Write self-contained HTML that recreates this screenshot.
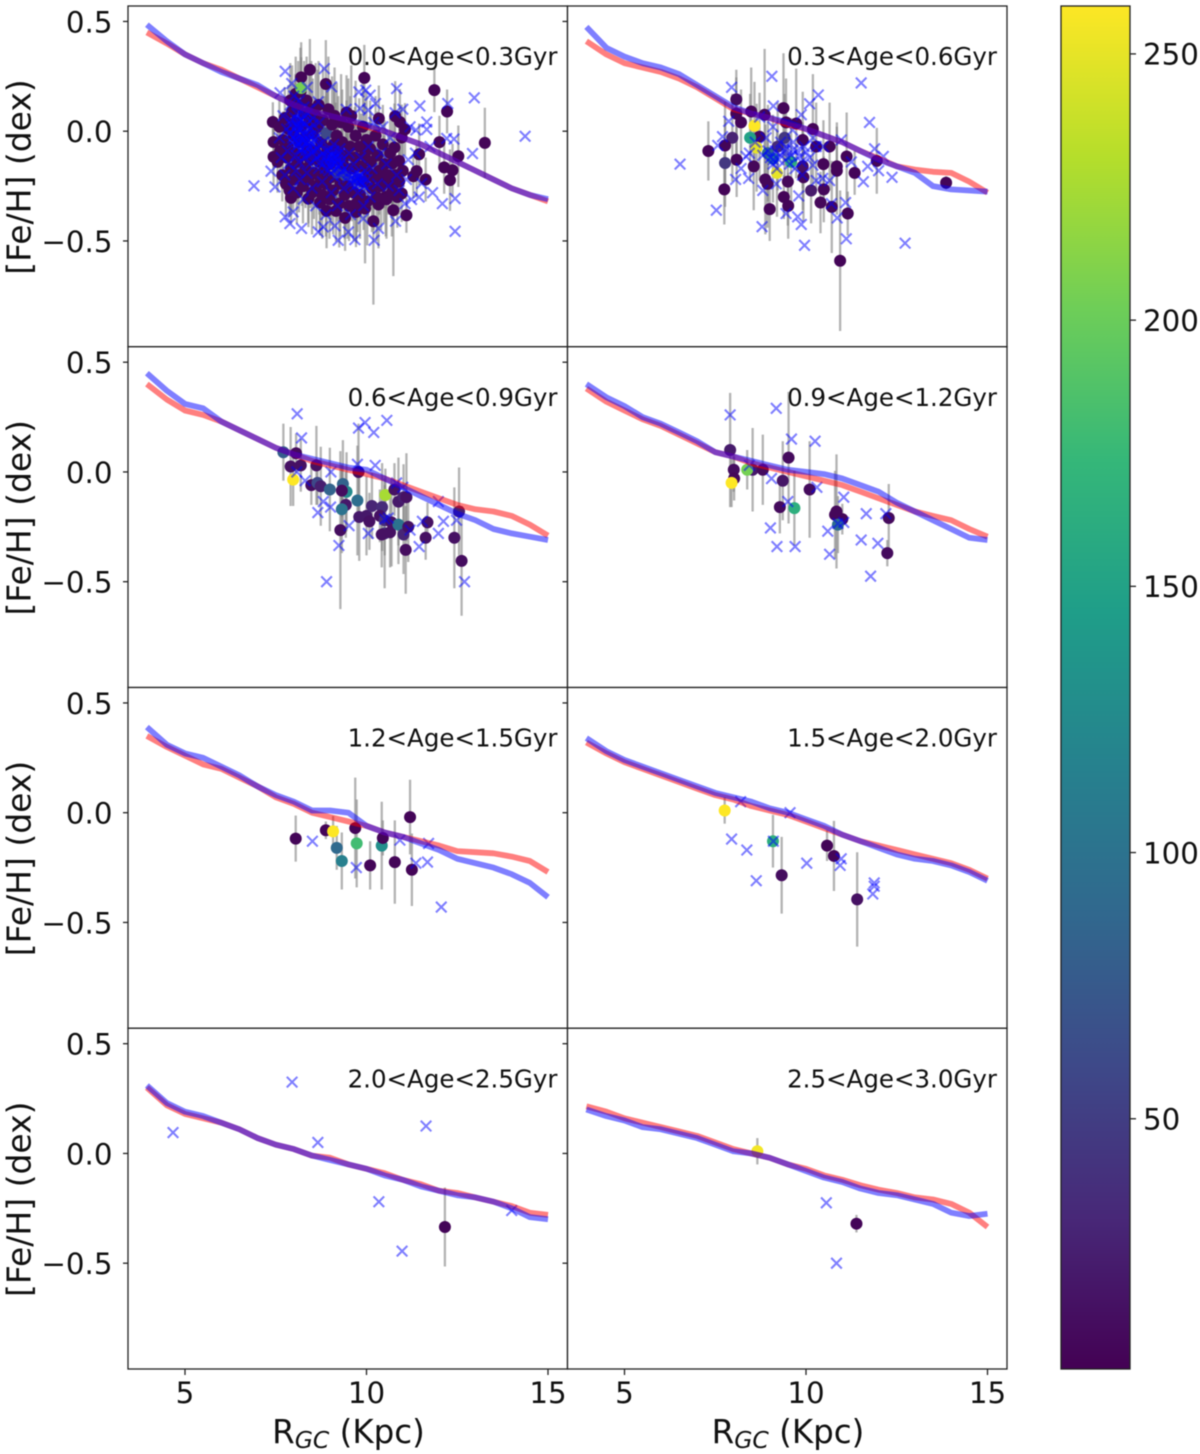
<!DOCTYPE html>
<html lang="en">
<head>
<meta charset="utf-8">
<title>[Fe/H] gradients by age bin</title>
<style>
html,body{margin:0;padding:0;background:#fff;}
svg{display:block;filter:blur(0.5px);}
text{font-family:"DejaVu Sans","Liberation Sans",sans-serif;fill:#111;}
</style>
</head>
<body>
<svg id="chart" xmlns="http://www.w3.org/2000/svg" width="1200" height="1454" viewBox="0 0 1200 1454"></svg>
<script>
const ageLabels = ["0.0<Age<0.3Gyr","0.3<Age<0.6Gyr","0.6<Age<0.9Gyr","0.9<Age<1.2Gyr","1.2<Age<1.5Gyr","1.5<Age<2.0Gyr","2.0<Age<2.5Gyr","2.5<Age<3.0Gyr"];
const xTicks = [5,10,15];
const yTicks = [0.5,0,-0.5];
const yTickLabels = ["0.5","0.0","\u22120.5"];
const cbarTicks = [50,100,150,200,250];
const rGrid = [3.95,4.5,5,5.5,6,6.5,7,7.5,8,8.5,9,9.5,10,10.5,11,11.5,12,12.5,13,13.5,14,14.5,15];

const blue0 = [.485,.41,.35,.31,.27,.24,.21,.16,.12,.09,.07,.05,.03,0,-.03,-.06,-.1,-.14,-.18,-.22,-.26,-.29,-.31];
const red0  = [.45,.4,.35,.31,.28,.24,.2,.16,.12,.09,.07,.05,.02,0,-.03,-.06,-.1,-.14,-.18,-.22,-.26,-.29,-.32];
const blue1 = [.475,.38,.34,.31,.29,.26,.21,.16,.11,.08,.06,.04,.01,-.02,-.05,-.09,-.13,-.16,-.19,-.25,-.265,-.27,-.275];
const red1  = [.41,.35,.31,.29,.27,.24,.2,.15,.1,.08,.06,.03,.01,-.02,-.05,-.09,-.125,-.16,-.175,-.185,-.19,-.23,-.28];
const blue2 = [.45,.37,.31,.29,.23,.19,.15,.11,.08,.06,.04,.02,.01,-.03,-.07,-.11,-.15,-.19,-.22,-.26,-.28,-.295,-.31];
const red2  = [.4,.33,.28,.26,.23,.19,.15,.11,.08,.05,.03,.01,-.01,-.03,-.06,-.09,-.12,-.15,-.17,-.18,-.2,-.24,-.29];
const blue3 = [.4,.34,.3,.25,.22,.18,.14,.09,.07,.05,.03,.01,0,-.01,-.03,-.06,-.09,-.14,-.18,-.22,-.26,-.3,-.31];
const red3  = [.38,.32,.28,.24,.21,.17,.13,.09,.07,.04,.02,0,-.02,-.04,-.06,-.09,-.12,-.15,-.18,-.2,-.22,-.26,-.295];
const blue4 = [.39,.31,.27,.25,.21,.17,.12,.08,.05,.01,.01,0,-.06,-.09,-.11,-.14,-.17,-.21,-.23,-.25,-.28,-.32,-.385];
const red4  = [.35,.3,.26,.22,.2,.16,.12,.07,.04,0,-.02,-.04,-.06,-.09,-.11,-.13,-.15,-.175,-.18,-.185,-.2,-.22,-.27];
const blue5 = [.34,.28,.24,.21,.18,.15,.12,.09,.07,.05,.02,0,-.03,-.06,-.1,-.13,-.16,-.19,-.21,-.22,-.24,-.27,-.31];
const red5  = [.32,.27,.23,.2,.17,.14,.11,.08,.06,.03,.01,-.01,-.04,-.07,-.1,-.13,-.15,-.17,-.19,-.21,-.23,-.26,-.3];
const blue6 = [.31,.23,.19,.17,.14,.11,.07,.04,.02,-.01,-.03,-.05,-.07,-.1,-.12,-.15,-.17,-.19,-.2,-.22,-.25,-.29,-.3];
const red6  = [.3,.22,.18,.16,.14,.11,.07,.04,.02,-.01,-.02,-.05,-.07,-.09,-.12,-.14,-.17,-.18,-.2,-.22,-.24,-.27,-.28];
const blue7 = [.2,.17,.15,.12,.11,.09,.07,.04,.01,0,-.02,-.05,-.08,-.11,-.13,-.16,-.18,-.19,-.21,-.23,-.27,-.285,-.275];
const red7  = [.215,.19,.16,.14,.12,.1,.08,.05,.02,0,-.02,-.05,-.07,-.1,-.12,-.145,-.165,-.18,-.2,-.21,-.23,-.27,-.335];

/* stars: [R_GC, [Fe/H], [Fe/H] error, colour value] */
const stars0 = [
[8.44,.28,.14,6],[8.2,.245,.16,6],[8.88,.215,.2,6],[9.94,.243,.15,6],[11.87,.187,.1,6],[12.22,.09,.1,6],[10.34,.058,.15,6],[9.45,.085,.17,6],[7.42,.042,.09,6],[7.44,-.049,.12,6],[7.44,-.117,.13,6],[7.92,-.304,.12,6],[13.26,-.053,.16,6],[12.53,-.114,.14,6],[12.01,-.05,.12,6],[12.14,-.165,.12,6],[12.37,-.178,.12,6],[12.3,-.223,.14,6],[11.45,-.105,.14,6],[11.63,-.22,.1,6],[11.29,-.205,.1,6],[11.38,-.182,.12,6],[11.1,-.383,.08,6],[10.74,-.36,.3,6],[10.19,-.41,.38,6],[9.41,-.395,.15,6],[10.97,-.284,.13,6],[11.06,.008,.12,6],[10.92,.042,.15,6],[10.79,.068,.16,6],[10.97,-.029,.15,6],[10.77,-.074,.2,6],[10.71,-.147,.2,6],[10.9,-.135,.16,6],[10.33,-.334,.2,6],[9.96,-.352,.25,6],[9.71,-.368,.16,6],[9.16,-.363,.14,6],[8.9,-.363,.17,6],[8.72,-.325,.15,6],[8.4,-.307,.13,6],[10.53,-.299,.18,6],[10.72,-.249,.15,6],
[7.6,.02,.12,7],[7.62,-.09,.15,7],[7.55,-.14,.14,7],[7.7,-.04,.13,7],[7.68,-.2,.12,7],[7.75,.06,.14,7],[7.8,-.12,.18,7],[7.78,-.24,.15,7],[7.85,.01,.2,7],[7.83,-.07,.16,7],[7.9,.14,.17,7],[7.92,-.17,.2,7],[7.88,-.27,.12,7],[7.95,.09,.21,7],[8,-.02,.24,7],[7.98,-.22,.15,7],[8.02,-.1,.2,7],[8.05,.17,.17,7],[8.04,.04,.22,7],[8.1,-.14,.19,7],[8.08,-.28,.14,7],[8.12,.12,.2,7],[8.15,-.05,.2,7],[8.14,-.2,.17,7],[8.2,.02,.22,7],[8.18,.18,.2,7],[8.22,-.11,.23,7],[8.25,-.25,.17,7],[8.28,.08,.24,7],[8.3,-.03,.25,7],[8.32,-.17,.18,7],[8.35,.14,.2,7],[8.38,-.08,.22,7],[8.4,-.22,.2,7],[8.42,.04,.23,7],[8.45,-.13,.22,7],[8.5,-.28,.19,7],[8.48,.1,.22,7],[8.52,-.01,.25,7],[8.55,-.19,.21,7],[8.6,.07,.24,7],[8.58,-.09,.24,7],[8.62,-.25,.2,7],[8.65,.02,.26,7],[8.7,-.14,.24,7],[8.68,.12,.2,7],[8.72,-.21,.24,7],[8.75,-.05,.25,7],[8.8,.05,.24,8],[8.78,-.29,.2,7],[8.85,-.11,.27,7],[8.83,-.18,.2,7],[8.9,-.01,.25,60],[8.88,-.24,.24,7],[8.95,.1,.24,7],[8.92,-.08,.26,7],[9,-.15,.24,7],[8.98,-.31,.18,7],[9.05,.03,.22,7],[9.02,-.21,.22,7],[9.1,-.06,.27,7],[9.08,-.27,.2,7],[9.15,-.13,.26,7],[9.12,.07,.22,7],[9.2,-.19,.22,50],[9.18,-.02,.24,7],[9.25,-.33,.2,7],[9.22,-.09,.25,7],[9.3,.04,.22,7],[9.28,-.24,.24,7],[9.35,-.15,.24,7],[9.33,-.05,.24,7],[9.4,-.29,.2,7],[9.45,-.11,.25,7],[9.42,-.2,.24,60],[9.5,.02,.22,7],[9.48,-.25,.24,7],[9.55,-.07,.23,7],[9.52,-.34,.16,7],[9.6,-.17,.24,7],[9.58,.07,.23,7],[9.65,-.28,.22,7],[9.7,-.02,.25,7],[9.68,-.12,.23,7],[9.75,-.22,.24,40],[9.72,-.33,.18,7],[9.8,-.07,.22,7],[9.85,-.16,.24,7],[9.82,-.29,.2,7],[9.9,.02,.2,7],[9.95,-.11,.24,7],[9.92,-.23,.22,7],[10,-.04,.22,7],[10.05,-.19,.23,7],[10.02,-.32,.2,7],[10.1,-.08,.22,7],[10.15,-.26,.2,7],[10.12,-.14,.22,7],[10.2,-.21,.24,7],[10.25,-.02,.18,7],[10.3,-.11,.2,7],[10.28,-.3,.2,7],[10.35,-.18,.2,7],[10.4,-.25,.2,7],[10.45,-.06,.18,7],[10.5,-.15,.2,7],[10.48,-.22,.2,7],[10.55,-.31,.18,7],[10.6,-.2,.18,7],[10.65,-.1,.16,7],[10.7,-.28,.2,7],[10.8,-.2,.15,7],[10.85,-.3,.14,7],[10.9,-.23,.15,7],[11,-.18,.14,7],
[8.2,.197,.14,205]
];
const crosses0 = [
[7.76,.273],[8.84,.285],[12.97,.152],[14.37,-.023],[6.9,-.249],[7.37,-.182],[7.48,-.254],[10.83,.194],[9.79,.179],[9.98,.187],[11.47,.115],[12.24,.126],[12.92,-.102],[12.44,-.456],[12.44,-.307],[12.09,-.33],[11.82,-.28],[11.66,.042],[11.66,.008],[11.36,.005],[12.21,-.033],[12.41,-.036],[11.75,-.07],[11,.1],[10.79,.084],[10.25,.126],[10.1,.164],[10.05,.096],[9.82,.103],[9.04,.202],[7.94,.217],[7.62,.175],[8.37,.2],[8.67,.134],[10.21,-.497],[9.68,-.494],[9.22,-.497],[8.67,-.459],[8.81,-.436],[9.5,-.459],[9.13,-.431],[8.21,-.443],[7.89,-.421],[7.76,-.39],[7.98,-.368],[10.33,-.443],[10.8,-.41],[9.91,-.398],[11.24,-.311],[11.52,-.238],[11.06,-.33],[10.83,-.2],
[7.6,-.03],[7.65,-.12],[7.7,.07],[7.75,-.2],[7.8,.01],[7.82,-.09],[7.85,-.15],[7.9,.12],[7.92,.05],[7.95,-.05],[7.98,-.26],[8,.16],[8.02,-.02],[8.05,-.11],[8.06,-.18],[8.08,.08],[8.1,.02],[8.12,-.06],[8.14,-.14],[8.15,.14],[8.17,-.22],[8.2,.05],[8.22,-.01],[8.24,-.08],[8.26,-.31],[8.28,.11],[8.3,-.04],[8.32,-.12],[8.34,.03],[8.36,-.19],[8.38,.08],[8.4,-.02],[8.42,-.07],[8.44,-.15],[8.46,.01],[8.48,-.1],[8.5,-.26],[8.52,.06],[8.55,-.04],[8.58,-.13],[8.6,-.34],[8.62,-.01],[8.65,-.08],[8.68,-.17],[8.7,.04],[8.74,-.11],[8.78,-.23],[8.82,-.05],[8.85,-.14],[8.88,-.38],[8.92,-.09],[8.96,-.18],[9,-.12],[9.03,-.28],[9.06,-.15],[9.1,-.06],[9.13,-.21],[9.16,-.11],[9.2,-.34],[9.23,-.16],[9.27,-.08],[9.3,-.2],[9.33,-.13],[9.37,-.26],[9.4,-.17],[9.44,.1],[9.48,-.21],[9.52,-.1],[9.56,-.38],[9.6,-.22],[9.64,-.15],[9.68,-.25],[9.72,-.19],[9.76,-.28],[9.8,-.21],[9.84,-.12],[9.88,-.24],[9.92,-.34],[9.96,-.18],[10,-.26],[10.05,-.07],[10.1,-.3],[10.15,-.17],[10.2,.04],[10.3,-.24],[10.4,-.1],[10.45,.02],[10.55,-.15],[10.6,-.25],[10.65,-.03],[10.9,-.27],[11.1,-.22],[11.15,-.13],[11.2,.02],[11.35,-.1],[11.45,-.3],
[7.88,-.01],[7.93,.03],[7.97,-.03],[8,.01],[8.03,.06],[8.04,-.04],[8.07,-.07],[8.09,.03],[8.1,-.01],[8.11,-.05],[8.13,.05],[8.15,.01],[8.16,-.03],[8.18,-.08],[8.19,.08],[8.21,.02],[8.23,-.04],[8.25,-.1],[8.27,.04],[8.29,-.02],[8.31,-.07],[8.33,.07],[8.35,-.05],[8.37,-.11],[8.39,.01],[8.41,-.04],[8.43,.1],[8.45,-.08],[8.47,-.02],[8.51,-.06],[8.53,.03],[8.56,-.09],[8.6,-.03],[8.64,-.12],[8.69,-.06],[8.73,-.14],
[8.8,-.1],[8.86,-.17],[8.9,-.12],[8.94,-.14],[8.97,-.09],[9.01,-.16],[9.04,-.11],[9.07,-.13],[9.09,-.18],[9.11,-.09],[9.14,-.15],[9.17,-.12],[9.19,-.17],[9.22,-.13],[9.25,-.1],[9.29,-.15],[9.35,-.18],[9.5,-.19],[9.58,-.24],[9.65,-.2],[9.7,-.23],[9.74,-.21],[9.78,-.24],[9.82,-.2],[9.86,-.23],[9.9,-.21],[9.94,-.25],[10.02,-.22]
];
const stars1 = [
[7.31,-.09,.135,6],[8.08,.145,.1,12],[8.08,.08,.2,6],[8.49,.09,.2,6],[8.86,.075,.3,6],[9.38,.105,.25,6],[8.21,.04,.15,6],[9.45,.04,.2,6],[9.73,.035,.25,6],[10.19,.01,.25,6],[8.72,-.025,.2,8],[7.97,-.03,.2,28],[7.77,-.065,.2,6],[8.09,-.13,.17,6],[7.77,-.145,.2,45],[7.75,-.265,.16,6],[8.56,-.16,.2,8],[8.95,-.1,.22,90],[9.41,-.03,.2,45],[9.22,-.07,.2,35],[9.91,-.04,.22,6],[10.28,-.07,.2,6],[10.65,-.07,.2,6],[11.12,-.115,.2,6],[11.95,-.135,.15,6],[10.48,-.15,.2,6],[10.85,-.16,.2,6],[10.85,-.18,.2,6],[11.34,-.19,.1,6],[9.91,-.16,.2,15],[9.93,-.21,.2,8],[9.5,-.23,.2,8],[8.88,-.22,.25,8],[8.94,-.24,.2,8],[9.39,-.3,.1,6],[9.51,-.34,.15,6],[9,-.355,.145,6],[10.14,-.27,.15,22],[10.49,-.265,.15,8],[10.4,-.325,.14,8],[10.71,-.345,.21,8],[11.15,-.375,.1,6],[10.94,-.59,.32,6],[13.86,-.235,.03,6],[8.58,.025,.2,259],[8.46,-.03,.2,150],[8.64,-.075,.2,250],[9.09,-.125,.2,112],[9.59,-.14,.2,165],[9.2,-.19,.2,250]
];
const crosses1 = [
[9.06,.25],[11.52,.22],[7.95,.2],[11.75,.04],[10.34,.165],[10.1,.125],[9.1,.115],[9.87,.075],[7.87,.045],[6.53,-.15],[7.53,-.36],[8.79,-.435],[9.96,-.52],[12.73,-.51],[11.11,-.49],[10.86,-.395],[9.87,-.425],[9.77,-.39],[9.45,-.375],[11.09,-.325],[10.7,-.33],[9.8,-.295],[11.58,-.23],[12.37,-.21],[12,-.18],[11.7,-.16],[11.89,-.08],[12.13,-.115],[11.25,-.14],[10.97,-.04],[8.06,-.22],[8.42,-.215],[8.21,-.17],[7.7,-.025],[7.57,-.065],[8.81,-.27],[9.18,-.24],[10,-.095],[9.64,-.085],[10.19,-.155],[10.46,-.215],[10.65,-.225],[10.28,-.225],[8.44,-.1],[8.35,-.115],[8.81,-.11],[9.09,-.15],[9.45,-.07],[9.82,-.115],[10.28,-.07],[9.09,.02],[8.72,.065],[9.63,.005],[10.19,-.03],[10.48,-.07],[9.1,-.13],[9.3,-.11],[9.55,-.15],[9.7,-.17],[10.1,-.12],[8.6,-.05],[8.9,-.03],[9.3,-.05],[9.65,-.05],[9.2,-.17],[9.9,-.2],
[8.95,-.09],[9.02,-.12],[9.15,-.09],[9.25,-.13],[9.4,-.09],[9.5,-.12],[9.6,-.11],[9.75,-.09],[9.88,-.14],[9.95,-.07]
];
const stars2 = [
[7.71,.09,.13,80],[8.06,.085,.09,10],[7.91,.025,.18,15],[8.19,.03,.12,15],[7.98,-.035,.12,259],[8.48,-.06,.09,12],[8.65,-.05,.1,60],[8.74,-.065,.18,25],[8.62,.03,.18,15],[8.99,-.08,.19,85],[9.35,-.055,.2,85],[9.45,-.09,.18,125],[9.32,-.085,.12,12],[9.43,-.15,.15,20],[9.32,-.17,.2,100],[9.75,-.13,.25,95],[9.78,0,.22,10],[9.28,-.265,.36,12],[9.8,-.205,.2,20],[10,-.2,.18,20],[10.08,-.225,.13,15],[10.15,-.155,.15,30],[10.43,-.16,.2,35],[10.37,-.2,.12,15],[10.5,-.22,.16,35],[10.5,-.28,.25,40],[10.69,-.23,.2,15],[10.42,-.285,.15,15],[10.65,-.275,.16,15],[10.88,-.24,.18,100],[11.02,-.285,.18,30],[11.15,-.25,.16,15],[10.52,-.105,.12,225],[10.77,-.08,.12,15],[10.88,-.135,.2,20],[11.02,-.115,.15,25],[11.1,-.115,.2,15],[11.08,-.355,.2,12],[11.68,-.23,.09,15],[11.63,-.3,.1,15],[12.42,-.3,.23,15],[12.55,-.18,.2,25],[12.62,-.405,.25,12]
];
const crosses2 = [
[8.09,.265],[8.21,.155],[9.78,.2],[9.96,.225],[10.2,.18],[10.56,.235],[9.75,.035],[10.24,.03],[9.02,0],[8.31,-.04],[8.08,0],[10.83,-.05],[11,-.07],[11.98,-.135],[8.81,-.135],[9.01,-.16],[8.66,-.185],[9.52,-.245],[10.05,-.28],[10.5,-.215],[10.6,-.21],[11.2,-.265],[11.54,-.225],[12.12,-.225],[11.98,-.28],[11.45,-.34],[12.48,-.22],[9.24,-.335],[8.9,-.5],[12.7,-.5]
];
const stars3 = [
[7.91,.1,.26,22],[8.01,.01,.1,12],[8.02,-.03,.1,8],[8.53,.01,.19,20],[8.81,.01,.16,10],[9.36,-.04,.18,18],[9.52,.065,.3,10],[9.28,-.16,.12,10],[10.1,-.08,.22,10],[10.84,-.18,.26,8],[10.8,-.195,.2,8],[11,-.215,.07,8],[12.28,-.21,.155,10],[12.24,-.37,.06,10],[10.88,-.24,.13,95],[9.68,-.165,.17,165],[8.38,.01,.09,205],[7.95,-.05,.11,259]
];
const crosses3 = [
[7.91,.26],[9.18,.29],[9.6,.15],[10.25,.14],[8.44,.03],[9.05,-.03],[10.3,-.07],[9.5,-.135],[9.02,-.255],[9.2,-.34],[9.7,-.34],[10.6,-.27],[11.04,-.23],[11.04,-.115],[10.88,-.235],[10.65,-.375],[11.66,-.19],[11.52,-.31],[11.98,-.325],[12.2,-.19],[11.78,-.475]
];
const stars4 = [
[8.05,-.118,.105,6],[8.88,-.08,.04,6],[9.18,-.16,.1,90],[9.32,-.22,.13,115],[9.73,-.14,.2,180],[9.69,-.07,.23,6],[10.1,-.24,.11,6],[10.42,-.15,.2,130],[10.45,-.115,.08,6],[10.78,-.225,.19,6],[11.2,-.02,.17,6],[11.25,-.26,.165,6],[9.08,-.085,.07,259]
];
const crosses4 = [
[8.51,-.13],[9.72,-.25],[10.92,-.125],[11.71,-.14],[11.36,-.23],[11.68,-.225],[12.06,-.43]
];
const stars5 = [
[7.76,.01,.06,259],[9.09,-.13,.12,165],[9.33,-.285,.175,12],[10.58,-.15,.07,6],[10.77,-.197,.16,6],[11.41,-.395,.215,15]
];
const crosses5 = [
[8.2,.05],[9.56,0],[7.95,-.12],[8.37,-.17],[8.63,-.31],[9.1,-.13],[10.02,-.23],[10.97,-.21],[10.94,-.24],[11.88,-.32],[11.88,-.335],[11.84,-.37]
];
const stars6 = [[12.16,-.335,.18,6]];
const crosses6 = [[7.95,.325],[4.67,.095],[8.66,.05],[11.64,.125],[10.34,-.22],[10.98,-.445],[14,-.26]];
const stars7 = [[8.66,.01,.06,255],[11.39,-.32,.04,6]];
const crosses7 = [[10.56,-.225],[10.84,-.5]];

const allStars = [stars0,stars1,stars2,stars3,stars4,stars5,stars6,stars7];
const allCrosses = [crosses0,crosses1,crosses2,crosses3,crosses4,crosses5,crosses6,crosses7];
const allBlue = [blue0,blue1,blue2,blue3,blue4,blue5,blue6,blue7];
const allRed = [red0,red1,red2,red3,red4,red5,red6,red7];

const NS = "http://www.w3.org/2000/svg";
const svg = document.getElementById("chart");
const viridis = ["#440154","#482878","#3e4989","#31688e","#26828e","#1f9e89","#35b779","#6ece58","#b5de2b","#fde725"];
const colMin = 3, colMax = 259;
const panelW = 439.5, panelH = 340.75, leftX = 128, topY = 6;

function hexToRgb(h){return [1,3,5].map(function(i){return parseInt(h.substr(i,2),16);});}
function viridisAt(t){
  t = Math.max(0,Math.min(1,t))*(viridis.length-1);
  const i = Math.min(viridis.length-2,Math.floor(t)), f = t-i;
  const a = hexToRgb(viridis[i]), b = hexToRgb(viridis[i+1]);
  return "rgb("+a.map(function(v,k){return Math.round(v+(b[k]-v)*f);}).join(",")+")";
}
function colorOf(v){return viridisAt((v-colMin)/(colMax-colMin));}
function mk(tag,attrs,parent){
  const el = document.createElementNS(NS,tag);
  Object.keys(attrs).forEach(function(k){el.setAttribute(k,attrs[k]);});
  (parent||svg).appendChild(el);
  return el;
}
function xScale(col,r){return leftX+col*panelW+57+(r-5)*36.3;}
function yScale(row,f){return topY+row*panelH+125.2-f*219.5;}

allStars.forEach(function(stars,idx){
  const col = idx%2, row = Math.floor(idx/2);
  const g = mk("g",{});
  
  
  const x0 = leftX+col*panelW, y0 = topY+row*panelH;

  const bg = mk("rect",{x:x0,y:y0,width:panelW,height:panelH,fill:"#fff"},g);
  
  

  const bars = mk("g",{stroke:"#808080","stroke-opacity":"0.6","stroke-width":"2.3"},g);
  
  
  stars.forEach(function(s){
    const b = mk("line",{x1:xScale(col,s[0]),x2:xScale(col,s[0]),y1:yScale(row,s[1]+s[2]),y2:yScale(row,s[1]-s[2])},bars);
    
    
  });

  const dots = mk("g",{},g);
  
  
  stars.forEach(function(s){
    const c = mk("circle",{cx:xScale(col,s[0]),cy:yScale(row,s[1]),r:6,fill:colorOf(s[3])},dots);
    
    
  });

  const xs = mk("g",{stroke:"#0000ff","stroke-opacity":"0.5","stroke-width":"2.1",fill:"none"},g);
  
  
  allCrosses[idx].forEach(function(p){
    const cx = xScale(col,p[0]), cy = yScale(row,p[1]), h = 5.3;
    const m = mk("path",{d:"M"+(cx-h)+" "+(cy-h)+"L"+(cx+h)+" "+(cy+h)+"M"+(cx-h)+" "+(cy+h)+"L"+(cx+h)+" "+(cy-h)},xs);
    
    
  });

  const linePts = function(arr){return arr.map(function(f,i){return xScale(col,rGrid[i]).toFixed(1)+","+yScale(row,f).toFixed(1);}).join(" ");};
  const lr = mk("polyline",{points:linePts(allRed[idx]),fill:"none",stroke:"#ff0000","stroke-opacity":"0.5","stroke-width":"5.8","stroke-linejoin":"round"},g);
  
  
  const lb = mk("polyline",{points:linePts(allBlue[idx]),fill:"none",stroke:"#0000ff","stroke-opacity":"0.5","stroke-width":"5.8","stroke-linejoin":"round"},g);
  
  

  const frame = mk("rect",{x:x0,y:y0,width:panelW,height:panelH,fill:"none",stroke:"#222","stroke-width":"1.3"},g);
  
  

  const lab = mk("text",{x:x0+panelW-10,y:y0+59,"text-anchor":"end","font-size":"24.5"},g);
  lab.textContent = ageLabels[idx];
  
  

  yTicks.forEach(function(t,i){
    const yy = yScale(row,t);
    const tk = mk("line",{x1:x0-5,x2:x0,y1:yy,y2:yy,stroke:"#222","stroke-width":"1.3"},g);
    
    
    if(col===0){
      const tl = mk("text",{x:x0-15.5,y:yy+10.8,"text-anchor":"end","font-size":"29.3"},g);
      tl.textContent = yTickLabels[i];
      
      
    }
  });

  if(col===0){
    const yt = mk("text",{x:0,y:0,"text-anchor":"middle","font-size":"33",transform:"translate(30.5,"+(y0+171)+") rotate(-90)"},g);
    yt.textContent = "[Fe/H] (dex)";
    
    
  }

  if(row===3){
    xTicks.forEach(function(t){
      const xx = xScale(col,t);
      const tk = mk("line",{x1:xx,x2:xx,y1:y0+panelH,y2:y0+panelH+6,stroke:"#222","stroke-width":"1.3"},g);
      
      
      const tl = mk("text",{x:xx,y:1403,"text-anchor":"middle","font-size":"29.3"},g);
      tl.textContent = String(t);
      
      
    });
    const xt = mk("text",{x:x0+220.5,y:1443,"text-anchor":"middle","font-size":"32.5"},g);
    
    
    const a = mk("tspan",{},xt); a.textContent = "R";
    const b = mk("tspan",{"font-style":"italic","font-size":"23.5",dy:"5"},xt); b.textContent = "GC";
    const c = mk("tspan",{dy:"-5"},xt); c.textContent = " (Kpc)";
  }
});

/* colour bar */
const defs = mk("defs",{});
const grad = mk("linearGradient",{id:"viridisGrad",x1:"0",y1:"1",x2:"0",y2:"0"},defs);
viridis.forEach(function(c,i){mk("stop",{offset:(i/(viridis.length-1)),"stop-color":c},grad);});
const cbG = mk("g",{});


const cbRect = mk("rect",{x:1061,y:6,width:69,height:1363,fill:"url(#viridisGrad)",stroke:"#222","stroke-width":"1.3"},cbG);


cbarTicks.forEach(function(t){
  const yy = 6+(colMax-t)/(colMax-colMin)*1363;
  const tk = mk("line",{x1:1130,x2:1136,y1:yy,y2:yy,stroke:"#222","stroke-width":"1.3"},cbG);
  
  
  const tl = mk("text",{x:1143,y:yy+10.8,"font-size":"29.3"},cbG);
  tl.textContent = String(t);
  
  
});
</script>
</body>
</html>
